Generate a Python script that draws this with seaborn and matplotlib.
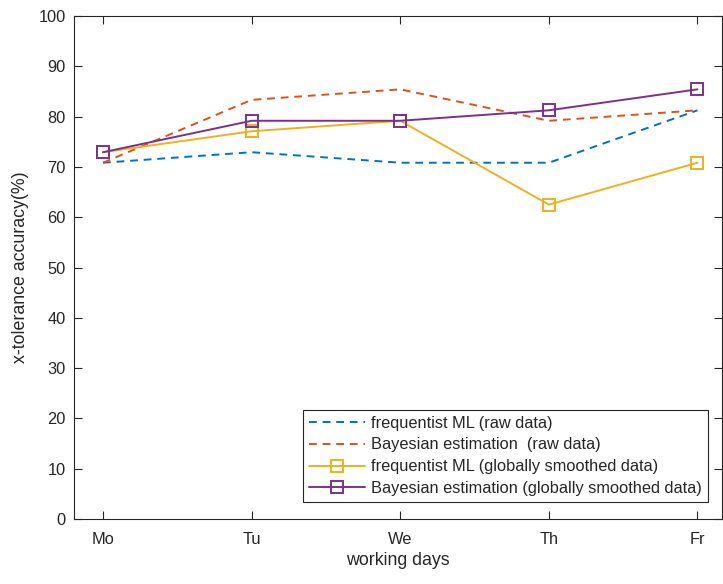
import matplotlib
matplotlib.use("Agg")
import matplotlib.pyplot as plt
import seaborn as sns
import pandas as pd

days = ["Mo", "Tu", "We", "Th", "Fr"]
freq_raw = [70.83, 72.92, 70.83, 70.83, 81.25]
bayes_raw = [70.83, 83.33, 85.42, 79.17, 81.25]
freq_smooth = [72.92, 77.08, 79.17, 62.50, 70.83]
bayes_smooth = [72.92, 79.17, 79.17, 81.25, 85.42]

series_names = [
    "frequentist ML (raw data)",
    "Bayesian estimation  (raw data)",
    "frequentist ML (globally smoothed data)",
    "Bayesian estimation (globally smoothed data)",
]
series_values = [freq_raw, bayes_raw, freq_smooth, bayes_smooth]
colors = ["#0072BD", "#D95319", "#EDB120", "#7E2F8E"]
styles = [(0, (4, 3)), (0, (4, 3)), "-", "-"]
markers = [None, None, "s", "s"]

sns.set_style("white")
plt.rcParams["font.family"] = ["Liberation Sans", "DejaVu Sans"]

fig = plt.figure(figsize=(7.23, 5.84), dpi=100)
ax = fig.add_axes([74 / 723, 65 / 584, 648 / 723, 503 / 584])

x = list(range(1, len(days) + 1))
for name, vals, c, ls, mk in zip(series_names, series_values, colors, styles, markers):
    df = pd.DataFrame({"day": x, "acc": vals})
    kw = dict(marker=mk, markersize=8, markerfacecolor="none",
              markeredgecolor=c, markeredgewidth=1.4) if mk else {}
    sns.lineplot(data=df, x="day", y="acc", ax=ax, color=c, linestyle=ls,
                 linewidth=1.4, label=name, **kw)

ax.set_xlim(0.805, 5.165)
ax.set_ylim(0, 100)
ax.set_xticks(x)
ax.set_xticklabels(days)
ax.set_yticks(range(0, 101, 10))

edge = "#262626"
for s in ax.spines.values():
    s.set_color(edge)
    s.set_linewidth(0.8)
    s.set_visible(True)
ax.tick_params(direction="in", length=6, width=0.8, colors=edge,
               labelsize=11.8, labelcolor="#262626",
               top=True, right=True, bottom=True, left=True)
ax.tick_params(axis="x", pad=9)
ax.tick_params(axis="y", pad=6)

ax.set_xlabel("working days", fontsize=12.8, color="#262626", labelpad=4)
ax.set_ylabel("x-tolerance accuracy(%)", fontsize=12.8, color="#262626", labelpad=7)

leg = ax.legend(loc="lower right", bbox_to_anchor=(0.978, 0.034), fontsize=11.8,
                frameon=True, fancybox=False, framealpha=1, edgecolor=edge,
                handlelength=3.4, handletextpad=0.4, borderpad=0.35,
                labelspacing=0.42, borderaxespad=0)
leg.get_frame().set_linewidth(0.8)

fig.savefig("out.png", dpi=100)
